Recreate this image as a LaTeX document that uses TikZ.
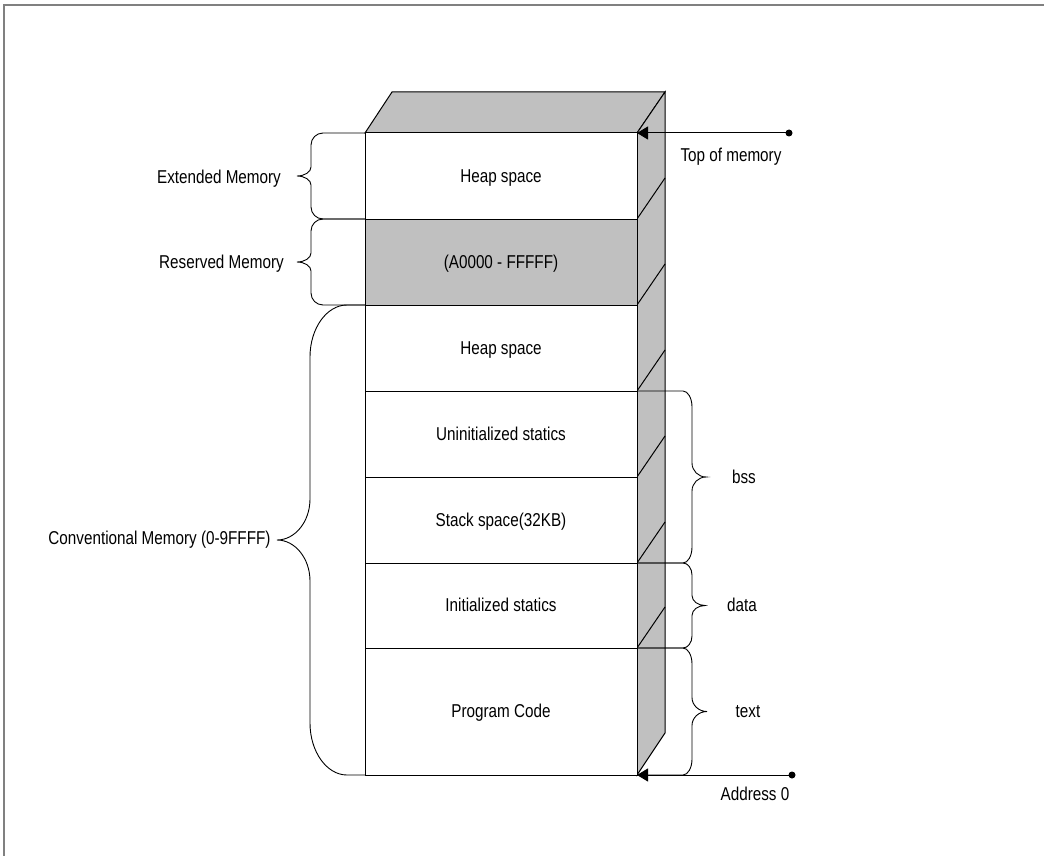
\documentclass[tikz,border=0pt]{standalone}
\usepackage{fontspec}
\setmainfont{Liberation Sans}[FakeStretch=0.82]
\usetikzlibrary{arrows.meta}
\definecolor{shade}{HTML}{C0C0C0}
\definecolor{framegray}{HTML}{808080}

% curly brace: #1 start x at box, #2 curve start x, #3 spine x, #4 tip x,
% #5 top y, #6 bottom y, #7 end-curve height, #8 tip-curve height
\newcommand\membrace[8]{%
  \draw[bracepen] (#1,#5) -- (#2,#5)
    .. controls ({#2+0.55*(#3-#2)},#5) and (#3,{#5+0.45*#7}) .. (#3,{#5+#7})
    -- (#3,{(#5+#6)/2-#8})
    .. controls (#3,{(#5+#6)/2-0.45*#8}) and ({#4+0.55*(#3-#4)},{(#5+#6)/2}) .. (#4,{(#5+#6)/2})
    .. controls ({#4+0.55*(#3-#4)},{(#5+#6)/2}) and (#3,{(#5+#6)/2+0.45*#8}) .. (#3,{(#5+#6)/2+#8})
    -- (#3,{#6-#7})
    .. controls (#3,{#6-0.45*#7}) and ({#2+0.55*(#3-#2)},#6) .. (#2,#6)
    -- (#1,#6);}

\begin{document}
\begin{tikzpicture}[x=1pt,y=-1pt,
  lbl/.style={font=\fontsize{18.6}{22}\selectfont, inner sep=0pt,
              text height=13.3pt, text depth=0pt},
  boxpen/.style={draw=black, line width=1pt},
  bracepen/.style={draw=black, line width=0.9pt},
  pointer/.style={draw=black, line width=1pt, -{Triangle[length=11pt,width=13pt]}},
  dotend/.style={fill=black}]

\useasboundingbox (0,0) rectangle (1044,856);

% outer frame (top and left edges)
\draw[framegray, line width=2pt] (4,856) -- (4,5) -- (1044,5);

% 3D block: top and side faces
\filldraw[boxpen, fill=shade] (365,133) -- (392,92) -- (665,92) -- (637,133) -- cycle;
\filldraw[boxpen, fill=shade] (637,133) -- (665,92) -- (665,733) -- (637,775) -- cycle;
\foreach \y in {219,305,391,477,563,648}
  \draw[boxpen] (637,\y) -- (665,\y-41);

% front face rows
\filldraw[boxpen, fill=white] (365,133) rectangle (637,219);
\filldraw[boxpen, fill=shade] (365,219) rectangle (637,305);
\filldraw[boxpen, fill=white] (365,305) rectangle (637,391);
\filldraw[boxpen, fill=white] (365,391) rectangle (637,477);
\filldraw[boxpen, fill=white] (365,477) rectangle (637,563);
\filldraw[boxpen, fill=white] (365,563) rectangle (637,648);
\filldraw[boxpen, fill=white] (365,648) rectangle (637,775);

\node[lbl] (heapext) at (501,176) {Heap space};
\node[lbl] (reserved) at (501,262) {(A0000 - FFFFF)};
\node[lbl] (heapconv) at (501,348) {Heap space};
\node[lbl] (uninit) at (501,434) {Uninitialized statics};
\node[lbl] (stack) at (501,520) {Stack space(32KB)};
\node[lbl] (init) at (501,605) {Initialized statics};
\node[lbl] (code) at (501,711) {Program Code};

% left braces
\membrace{365}{323}{311}{297}{133}{219}{12}{9}
\membrace{365}{323}{311}{297}{219}{305}{12}{9}
\membrace{365}{347}{310}{277}{305}{775}{52}{41}

\node[lbl] (extmem) at (219,177) {Extended Memory};
\node[lbl] (resmem) at (221.5,262) {Reserved Memory};
\node[lbl] (convmem) at (159.5,538) {Conventional Memory (0-9FFFF)};

% right braces
\membrace{637}{683}{692}{706}{391}{563}{16}{14}
\membrace{637}{683}{692}{705}{563}{648}{12}{10}
\membrace{637}{683}{692}{707}{648}{775}{16}{14}

\node[lbl] (bss) at (744,477) {bss};
\node[lbl] (data) at (742,605) {data};
\node[lbl] (text) at (748,711) {text};

% pointers
\coordinate (topcorner) at (637,133);
\coordinate (topfree) at (789,133);
\coordinate (botcorner) at (637,775);
\coordinate (botfree) at (792,775);
\draw[pointer] (topfree) -- (topcorner);
\draw[pointer] (botfree) -- (botcorner);
\fill[dotend] (topfree) circle (3.5);
\fill[dotend] (botfree) circle (3.5);

\node[lbl] (topmem) at (731,155) {Top of memory};
\node[lbl] (addr0) at (755,794) {Address 0};
\end{tikzpicture}
\end{document}
